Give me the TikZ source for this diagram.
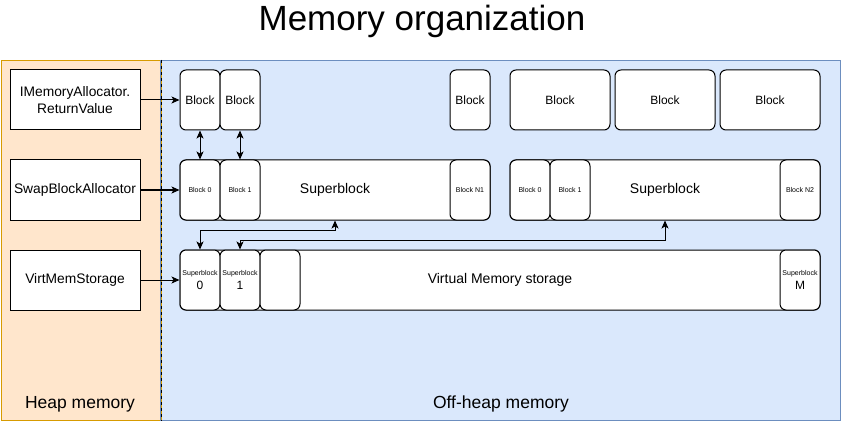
\documentclass[tikz,border=0pt]{standalone}
\usepackage{fontspec}
\setmainfont{Liberation Sans}
\usetikzlibrary{arrows.meta}
\definecolor{heapfill}{HTML}{FFE6CC}
\definecolor{heapdraw}{HTML}{D79B00}
\definecolor{offfill}{HTML}{DAE8FC}
\definecolor{offdraw}{HTML}{6C8EBF}
\newcommand\myfs[1]{\pgfmathsetlengthmacro\myfsb{1.2*#1}\fontsize{#1}{\myfsb}\selectfont}
\tikzset{
  fs/.style={font=\myfs{#1}},
  base/.style={draw=black, line width=1pt, fill=white, inner sep=0pt, align=center},
  leftbox/.style={base, minimum width=130pt, minimum height=60pt, fs=13.8},
  blk/.style={base, rounded corners=6pt, minimum width=40pt, minimum height=60pt, fs=12},
  wideblk/.style={blk, minimum width=100pt},
  superbox/.style={base, rounded corners=6pt, minimum width=310pt, minimum height=60pt, fs=14},
  vmbox/.style={base, rounded corners=6pt, minimum width=640pt, minimum height=60pt, fs=14},
  tiny/.style={blk, fs=7},
  tip/.tip={Stealth[length=8pt,width=7pt,inset=2pt]},
  arr/.style={line width=1pt, -tip},
  darr/.style={line width=1pt, tip-tip},
}
\begin{document}
\begin{tikzpicture}[x=1pt,y=-1pt]
\useasboundingbox (0,0) rectangle (841,441);
% regions
\node[draw=heapdraw, fill=heapfill, line width=1pt, minimum width=160pt, minimum height=360pt, inner sep=0pt, anchor=north west] (heap) at (0.5,60) {};
\node[draw=offdraw, fill=offfill, line width=1pt, minimum width=680pt, minimum height=360pt, inner sep=0pt, anchor=north west] (off) at (160,60) {};
\draw[line width=1pt, heapdraw] (heap.north east) -- (heap.south east);
\draw[line width=1pt, black, dash pattern=on 3pt off 3pt] (heap.north east) -- (heap.south east);
% title and region labels
\node[fs=35] (title) at (422,21) {Memory organization};
\node[fs=17.5] (heaplbl) at (80,404) {Heap memory};
\node[fs=17.5] (offlbl) at (501,404) {Off-heap memory};
% left boxes
\node[leftbox] (ima) at (75,100) {IMemoryAllocator.\\ReturnValue};
\node[leftbox] (sba) at (75,190) {SwapBlockAllocator};
\node[leftbox] (vms) at (75,280) {VirtMemStorage};
% top blocks
\node[blk] (tb1) at (200,100) {Block};
\node[blk] (tb2) at (240,100) {Block};
\node[blk] (tb3) at (470,100) {Block};
\node[wideblk] (tb4) at (560,100) {Block};
\node[wideblk] (tb5) at (665,100) {Block};
\node[wideblk] (tb6) at (770,100) {Block};
% superblocks
\node[superbox] (sb1) at (335,190) {Superblock};
\node[tiny] (b10) at (200,190) {Block 0};
\node[tiny] (b11) at (240,190) {Block 1};
\node[tiny] (b1n) at (470,190) {Block N1};
\node[superbox] (sb2) at (665,190) {Superblock};
\node[tiny] (b20) at (530,190) {Block 0};
\node[tiny] (b21) at (570,190) {Block 1};
\node[tiny] (b2n) at (800,190) {Block N2};
% virtual memory storage
\node[vmbox] (vm) at (500,280) {Virtual Memory storage};
\node[blk] (s0) at (200,280) {{\myfs{7}Superblock}\\0};
\node[blk] (s1) at (240,280) {{\myfs{7}Superblock}\\1};
\node[blk] (s2) at (280,280) {};
\node[blk] (sm) at (800,280) {{\myfs{7}Superblock}\\M};
% connectors
\draw[arr] (ima.east) -- (tb1.west);
\draw[arr] (sba.east) -- (b10.west);
\draw[arr] (vms.east) -- (s0.west);
\draw[darr] (tb1.south) -- (b10.north);
\draw[darr] (tb2.south) -- (b11.north);
\draw[darr] (sb1.south) -- ++(0,10) -| (s0.north);
\draw[darr] (sb2.south) -- ++(0,20) -| (s1.north);
\end{tikzpicture}
\end{document}
